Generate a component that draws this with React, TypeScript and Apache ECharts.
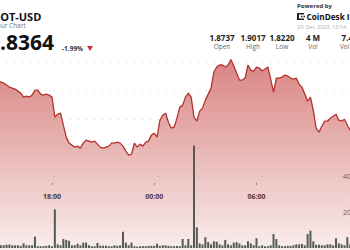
import React, { useEffect, useRef } from "react";
import * as echarts from "echarts";

// time of first price point (hours, 14:50) and step (10 min)
const priceStart = 14 + 50 / 60;
const volumeStart = 15;
const stepH = 1 / 6;

const prices = [
  1.8867, 1.8860, 1.8853, 1.8839, 1.8825, 1.8818, 1.8811, 1.8797, 1.8783, 1.8755,
  1.8762, 1.8755, 1.8769, 1.8804, 1.8804, 1.8776, 1.8769, 1.8776, 1.8769, 1.8755,
  1.8615, 1.8636, 1.8643, 1.8559, 1.8476, 1.8434, 1.8420, 1.8406, 1.8413, 1.8399,
  1.8434, 1.8455, 1.8448, 1.8441, 1.8448, 1.8427, 1.8406, 1.8399, 1.8406, 1.8413,
  1.8434, 1.8434, 1.8441, 1.8434, 1.8413, 1.8378, 1.8350, 1.8357, 1.8434, 1.8406,
  1.8427, 1.8413, 1.8441, 1.8448, 1.8490, 1.8503, 1.8476, 1.8594, 1.8629, 1.8643,
  1.8580, 1.8538, 1.8545, 1.8608, 1.8685, 1.8699, 1.8755, 1.8783, 1.8755, 1.8615,
  1.8587, 1.8657, 1.8678, 1.8734, 1.8776, 1.8818, 1.8930, 1.8965, 1.8979, 1.8979,
  1.8965, 1.8979, 1.9017, 1.8972, 1.8923, 1.8874, 1.8874, 1.8888, 1.8979, 1.8944,
  1.8937, 1.8965, 1.8958, 1.8937, 1.8951, 1.8965, 1.8881, 1.8790, 1.8888, 1.8888,
  1.8895, 1.8909, 1.8902, 1.8888, 1.8881, 1.8888, 1.8846, 1.8825, 1.8776, 1.8727,
  1.8755, 1.8664, 1.8538, 1.8510, 1.8552, 1.8587, 1.8587, 1.8608, 1.8622, 1.8636,
  1.8594, 1.8587, 1.8601, 1.8559, 1.8524, 1.8510,
];

const volumes = [
  1.5, 1.5, 1.8, 1.9, 1.5, 1.5, 1.5, 1.2, 2.6, 1.5,
  1.5, 1.5, 6.3, 1.0, 1.0, 1.0, 1.2, 1.5, 1.0, 21.5,
  2.0, 1.5, 5.0, 4.5, 4.0, 1.5, 1.5, 2.4, 1.5, 3.0,
  3.0, 1.5, 1.0, 1.0, 2.8, 1.3, 1.3, 1.3, 1.0, 1.0,
  1.5, 1.2, 1.5, 9.0, 3.0, 1.5, 3.0, 1.0, 0.8, 1.0,
  1.0, 1.0, 1.2, 1.2, 1.2, 2.4, 1.2, 1.5, 1.5, 1.2,
  1.0, 1.0, 1.2, 1.0, 5.0, 1.5, 5.0, 1.5, 57.0, 11.5,
  2.5, 2.0, 6.0, 3.3, 2.0, 3.7, 3.5, 2.0, 1.5, 4.5,
  2.0, 1.5, 3.0, 3.3, 2.5, 1.5, 1.5, 3.7, 2.6, 1.5,
  5.4, 1.0, 1.5, 1.0, 1.0, 1.5, 7.8, 5.0, 1.5, 1.0,
  1.0, 1.2, 1.2, 1.5, 2.0, 2.0, 2.3, 1.5, 7.8, 9.6,
  3.7, 1.8, 1.8, 1.5, 1.5, 2.0, 2.0, 1.5, 5.4, 2.6,
  2.0, 1.5, 6.0, 2.0,
];

const statValues = ["1.8737", "1.9017", "1.8220", "4 M", "7.4 M"];
const statLabels = ["Open", "High", "Low", "Vol", "Vol USD"];

const FONT = "'Open Sans', 'Noto Sans', sans-serif";
const T = "rgba(0,0,0,0)";
const G = "#cfcfcf";

export default function App() {
  const ref = useRef<HTMLDivElement>(null);
  useEffect(() => {
    if (!ref.current) return;
    const chart = echarts.init(ref.current, undefined, { renderer: "svg" });
    const priceData = prices.map((p, i) => [priceStart + i * stepH, p]);
    const volData = volumes.map((v, i) => [volumeStart + i * stepH, v]);
    const statCenters = [222, 253, 282, 313, 352];
    const graphic: any[] = [
      { type: "text", x: -8, y: 16.5, style: { text: "DOT-USD", fontSize: 11, fontWeight: "bold", fontFamily: FONT, fill: "#111", verticalAlign: "middle" } },
      { type: "text", x: -8, y: 25, style: { text: "Hour Chart", fontSize: 6.5, fontFamily: FONT, fill: "#777", verticalAlign: "middle" } },
      { type: "text", x: -12, y: 41.5, style: { text: "1.8364", fontSize: 21, fontWeight: "bold", fontFamily: FONT, fill: "#111", verticalAlign: "middle" } },
      { type: "text", x: 62, y: 48, style: { text: "-1.99%", fontSize: 6.5, fontWeight: "bold", fontFamily: FONT, fill: "#333", verticalAlign: "middle" } },
      { type: "polygon", shape: { points: [[87, 46], [93, 46], [90, 51]] }, style: { fill: "#c0392b" } },
      { type: "text", x: 297, y: 6, style: { text: "Powered by", fontSize: 6, fontWeight: "bold", fontFamily: FONT, fill: "#333", verticalAlign: "middle" } },
      { type: "rect", shape: { x: 297, y: 13, width: 2, height: 7 }, style: { fill: "#222" } },
      { type: "rect", shape: { x: 297, y: 13, width: 7, height: 1.5 }, style: { fill: "#222" } },
      { type: "rect", shape: { x: 297, y: 18.5, width: 7, height: 1.5 }, style: { fill: "#222" } },
      { type: "rect", shape: { x: 301, y: 15.7, width: 1.5, height: 1.5 }, style: { fill: "#222" } },
      { type: "rect", shape: { x: 303.5, y: 15.7, width: 1.5, height: 1.5 }, style: { fill: "#222" } },
      { type: "text", x: 306.5, y: 16.5, style: { text: "CoinDesk Indices", fontSize: 8.2, fontWeight: "bold", fontFamily: FONT, fill: "#111", verticalAlign: "middle" } },
      { type: "text", x: 297, y: 27, style: { text: "29 Dec 2025 13:14", fontSize: 5.8, fontFamily: FONT, fill: "#b0b0b0", verticalAlign: "middle" } },
    ];
    statValues.forEach((s, i) => {
      graphic.push({ type: "text", x: statCenters[i], y: 37.5, style: { text: s, fontSize: 8, fontWeight: "bold", fontFamily: FONT, fill: "#222", align: "center", verticalAlign: "middle" } });
      graphic.push({ type: "text", x: statCenters[i], y: 46, style: { text: statLabels[i], fontSize: 6.5, fontFamily: FONT, fill: "#666", align: "center", verticalAlign: "middle" } });
    });

    chart.setOption({
      animation: false,
      backgroundColor: "#fff",
      grid: [
        { left: -50.24, right: -8.72, top: 4.67, bottom: -12.67, outerBoundsMode: "none", containLabel: false },
        { left: -50.24, right: -8.72, top: 32, bottom: 2, outerBoundsMode: "none", containLabel: false },
      ],
      xAxis: [
        {
          type: "value", gridIndex: 0, min: 12, max: 36, interval: 6, offset: -79.67,
          axisLine: { show: false },
          axisTick: { show: true, length: 2, lineStyle: { color: "#999" } },
          splitLine: { show: false },
          axisLabel: {
            margin: 10, fontSize: 7, fontWeight: "bold", color: "#333", fontFamily: FONT, showMaxLabel: false,
            formatter: (v: number) => String(Math.round(v) % 24).padStart(2, "0") + ":00",
          },
        },
        { type: "value", gridIndex: 1, min: 12, max: 36, show: false },
      ],
      yAxis: [
        {
          type: "value", gridIndex: 0, min: 1.76, max: 1.94, interval: 0.02,
          axisLine: { show: false }, axisTick: { show: false }, axisLabel: { show: false },
          splitLine: { show: true, lineStyle: { color: [T, T, T, T, G, G, G, G, T, T], type: [1, 7], width: 1 } },
        },
        {
          type: "value", gridIndex: 1, min: 0, max: 120, interval: 20, position: "right", offset: -17.7,
          axisLine: { show: false }, axisTick: { show: false },
          axisLabel: {
            margin: 2, fontSize: 7, color: "#666", fontFamily: FONT,
            formatter: (v: number) => (v === 20 || v === 40 ? String(v) : ""),
          },
          splitLine: { show: true, lineStyle: { color: [T, G, G, T, T, T, T], type: [1, 7], width: 1 } },
        },
      ],
      series: [
        {
          type: "line", xAxisIndex: 0, yAxisIndex: 0, data: priceData, showSymbol: false, z: 2,
          lineStyle: { color: "#b3322b", width: 1.3 },
          areaStyle: {
            origin: "start",
            color: new echarts.graphic.LinearGradient(0, 0, 0, 1, [
              { offset: 0, color: "rgba(190,50,45,0.85)" },
              { offset: 1, color: "rgba(190,50,45,0.07)" },
            ]),
          },
        },
        {
          type: "bar", xAxisIndex: 1, yAxisIndex: 1, data: volData, barWidth: 2, z: 3,
          itemStyle: { color: "#535b55" },
        },
      ],
      graphic,
    });
    return () => chart.dispose();
  }, []);
  return <div ref={ref} style={{ position: "absolute", left: 0, top: 0, width: 350, height: 250 }} />;
}
